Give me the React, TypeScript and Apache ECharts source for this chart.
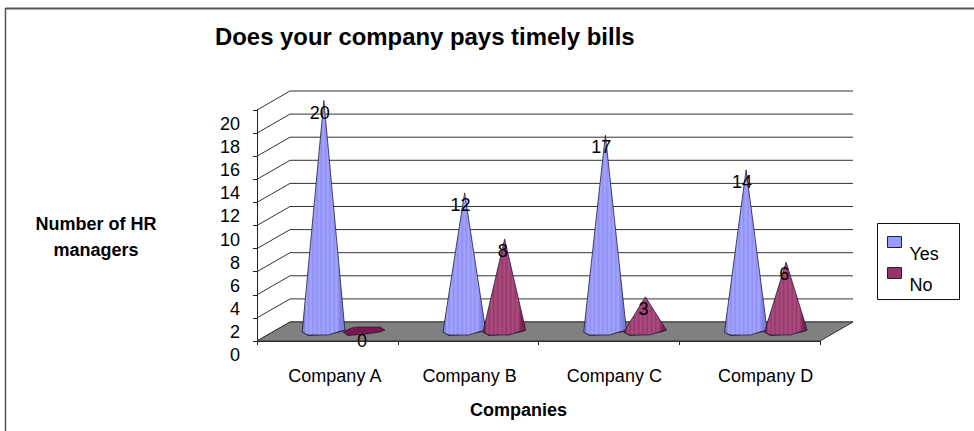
import React, { useEffect, useRef } from "react";
import * as echarts from "echarts";

const categories = ["Company A", "Company B", "Company C", "Company D"];
const yesValues = [20, 12, 17, 14];
const noValues = [0, 8, 3, 6];
const yTicks = [0, 2, 4, 6, 8, 10, 12, 14, 16, 18, 20];

const FONT = "'Liberation Sans', Arial, sans-serif";
const DX = 33;
const DY = 19;
const BODY = [[21, -1.5], [12.7, 0.8], [4.3, 3.5], [-15.7, 3.5], [-21.7, 0.8]];
const BASE = [[-21, 0.5], [-12.5, -3.5], [-6, -4.5], [16, -4.5], [21, -1.5], [16, 0.5], [3, 2.5], [-16, 4]];
const LABEL_SHIFT = [15, 3, 11, 32];

function stripes(dark: string, light: string, edge: string) {
  const stops: { offset: number; color: string }[] = [];
  const n = 20;
  for (let i = 0; i <= n; i++) {
    const t = i / n;
    const base = t < 0.1 || t > 0.85 ? edge : i % 2 === 0 ? light : dark;
    stops.push({ offset: t, color: base });
  }
  return new echarts.graphic.LinearGradient(0, 0, 1, 0, stops);
}

function coneSeries(name: string, values: number[], side: number, color: string, dark: string, light: string, edge: string, baseColor: string) {
  return {
    name,
    type: "custom",
    coordinateSystem: "cartesian2d",
    clip: false,
    z: 5,
    itemStyle: { color },
    data: values.map((v, i) => [i, v]),
    encode: { x: 0, y: 1 },
    renderItem: (_p: any, api: any) => {
      const [x, y] = api.coord([api.value(0), api.value(1)]);
      const [, y0] = api.coord([api.value(0), 0]);
      const cx = x + DX / 2 + side * 20;
      const cy = y0 - DY / 2;
      const tipY = y - DY / 2;
      const v = api.value(1);
      const children: any[] = [
        {
          type: "polygon",
          shape: { points: BASE.map(([a, b]) => [cx + a, cy + b]) },
          style: { fill: baseColor, stroke: "#2a1030", lineWidth: 0.7 },
        },
      ];
      if (v > 0) {
        children.push({
          type: "polygon",
          shape: { points: [[cx, tipY], ...BODY.map(([a, b]) => [cx + a, cy + b])] },
          style: { fill: stripes(dark, light, edge), stroke: "#20203a", lineWidth: 0.8 },
        });
      }
      children.push({
        type: "text",
        x: cx + (String(v).length > 1 ? -4 : -2),
        y: tipY + (v === 0 ? 9 : 12),
        style: { text: String(v), font: `18px ${FONT}`, fill: "#000", align: "center", verticalAlign: "middle" },
      });
      return { type: "group", children };
    },
  };
}

export default function App() {
  const ref = useRef<HTMLDivElement>(null);
  useEffect(() => {
    const chart = echarts.init(ref.current!, undefined, { renderer: "svg" });
    chart.setOption({
      animation: false,
      backgroundColor: "#fff",
      title: {
        text: "Does your company pays timely bills",
        left: 215,
        top: 24,
        padding: 0,
        textStyle: { fontFamily: FONT, fontSize: 23.9, fontWeight: "bold", color: "#000" },
      },
      legend: {
        data: ["Yes", "No"],
        orient: "vertical",
        left: 887,
        top: 236,
        padding: 0,
        itemGap: 4,
        itemWidth: 14,
        itemHeight: 11,
        icon: "rect",
        selectedMode: false,
        itemStyle: { borderColor: "#222", borderWidth: 1 },
        formatter: (n: string) => `{a|${n}}`,
        textStyle: {
          fontFamily: FONT,
          fontSize: 18,
          color: "#000",
          rich: { a: { fontFamily: FONT, fontSize: 18, color: "#000", padding: [24, 0, 0, 3] } },
        },
      },
      grid: { left: 257, right: 154, top: 110, bottom: 90 },
      xAxis: {
        type: "category",
        data: categories.map((c, i) => ({ value: c, textStyle: { padding: [0, 0, 0, LABEL_SHIFT[i]] } })),
        name: "Companies",
        nameLocation: "middle",
        nameGap: 60,
        nameTextStyle: { fontFamily: FONT, fontSize: 18, fontWeight: "bold", color: "#000", padding: [0, 40, 0, 0] },
        axisLine: { show: true, lineStyle: { color: "#222", width: 1 } },
        axisTick: { show: true, length: 4, lineStyle: { color: "#222" }, alignWithLabel: false },
        axisLabel: { fontFamily: FONT, fontSize: 18, color: "#000", margin: 26 },
      },
      yAxis: {
        type: "value",
        min: 0,
        max: 20,
        interval: 2,
        name: "{a|Number of HR}\n{a|managers}",
        nameLocation: "middle",
        nameGap: 161,
        nameRotate: 0,
        nameTextStyle: {
          align: "center",
          verticalAlign: "middle",
          rich: {
            a: { fontFamily: FONT, fontSize: 18, fontWeight: "bold", color: "#000", lineHeight: 26, padding: [23, 0, 0, 0] },
          },
        },
        splitLine: { show: false },
        axisLine: { show: true, lineStyle: { color: "#222", width: 1 } },
        axisTick: { show: true, length: 4, lineStyle: { color: "#222" } },
        axisLabel: { fontFamily: FONT, fontSize: 18, color: "#000", margin: 17, verticalAlign: "top", padding: [5, 0, 0, 0] },
      },
      graphic: [
        { type: "line", silent: true, shape: { x1: 5.5, y1: 8.5, x2: 974, y2: 8.5 }, style: { stroke: "#555", lineWidth: 2 } },
        { type: "line", silent: true, shape: { x1: 5.5, y1: 8, x2: 5.5, y2: 431 }, style: { stroke: "#555", lineWidth: 1.5 } },
        { type: "rect", silent: true, shape: { x: 877.5, y: 223.5, width: 82, height: 76 }, style: { fill: "none", stroke: "#111", lineWidth: 1 } },
      ],
      series: [
        {
          name: "wall",
          type: "custom",
          coordinateSystem: "cartesian2d",
          clip: false,
          z: 1,
          silent: true,
          data: yTicks.map((t) => [0, t]),
          encode: { y: 1 },
          renderItem: (p: any, api: any) => {
            const left = p.coordSys.x;
            const right = left + p.coordSys.width;
            const y = api.coord([0, api.value(1)])[1];
            return {
              type: "polyline",
              shape: { points: [[left, y], [left + DX, y - DY], [right + DX, y - DY]] },
              style: { fill: "none", stroke: "#333", lineWidth: 1 },
            };
          },
        },
        {
          name: "floor",
          type: "custom",
          coordinateSystem: "cartesian2d",
          clip: false,
          z: 2,
          silent: true,
          data: [[0, 0]],
          encode: { y: 1 },
          renderItem: (p: any, api: any) => {
            const left = p.coordSys.x;
            const right = left + p.coordSys.width;
            const y = api.coord([0, 0])[1];
            return {
              type: "polygon",
              shape: { points: [[left, y], [left + DX, y - DY], [right + DX, y - DY], [right, y]] },
              style: { fill: "#808080", stroke: "#333", lineWidth: 1 },
            };
          },
        },
        coneSeries("Yes", yesValues, -1, "#9999ff", "#8f8ff5", "#a6a6ff", "#8080e0", "#6a6ad0"),
        coneSeries("No", noValues, 1, "#993366", "#97386a", "#ad4f80", "#80204f", "#75194f"),
      ],
    });
    return () => chart.dispose();
  }, []);
  return <div ref={ref} style={{ position: "absolute", left: 0, top: 0, width: 974, height: 431 }} />;
}
